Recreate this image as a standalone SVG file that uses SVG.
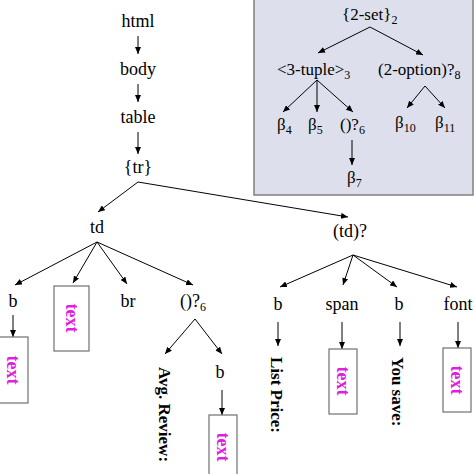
<svg xmlns="http://www.w3.org/2000/svg" width="474" height="474" viewBox="0 0 474 474">
<defs>
<marker id="ah" markerUnits="userSpaceOnUse" markerWidth="8" markerHeight="6" refX="7" refY="3" orient="auto">
<path d="M0,0 L7,3 L0,6 Z" fill="#000"/>
</marker>
<style>
.t{font-family:"Liberation Serif","Times New Roman",serif;font-size:18px;fill:#000}
.p{font-family:"Liberation Serif","Times New Roman",serif;font-size:17px;fill:#000}
.s{font-size:12px}
.m{font-family:"Liberation Serif","Times New Roman",serif;font-size:18px;font-weight:bold;fill:#e01ee0}
.v{font-family:"Liberation Serif","Times New Roman",serif;font-size:17px;font-weight:bold;fill:#000}
.bx{fill:#fff;stroke:#707070;stroke-width:1.2}
.c line{stroke:#000;stroke-width:1;marker-end:url(#ah)}
</style>
</defs>
<rect width="474" height="474" fill="#fff"/>
<g id="panel">
<rect x="254" y="-2" width="219" height="197" fill="#dde0ec" stroke="#808080" stroke-width="1.5"/>
</g>
<g class="c" id="connectors">
<line x1="138" y1="36" x2="138" y2="54"/>
<line x1="138" y1="84" x2="138" y2="102"/>
<line x1="138" y1="132" x2="138" y2="154"/>
<line x1="138" y1="182" x2="98" y2="212"/>
<line x1="138" y1="182" x2="348" y2="217"/>
<line x1="97" y1="242" x2="15" y2="285"/>
<line x1="97" y1="242" x2="73" y2="283"/>
<line x1="97" y1="242" x2="127" y2="284"/>
<line x1="97" y1="242" x2="193" y2="285"/>
<line x1="13" y1="315" x2="13" y2="337"/>
<line x1="195" y1="319" x2="165" y2="354"/>
<line x1="195" y1="319" x2="222" y2="354"/>
<line x1="222" y1="390" x2="222" y2="415"/>
<line x1="353" y1="255" x2="280" y2="287"/>
<line x1="353" y1="255" x2="343" y2="285"/>
<line x1="353" y1="255" x2="397" y2="287"/>
<line x1="353" y1="255" x2="457" y2="287"/>
<line x1="278" y1="322" x2="278" y2="346"/>
<line x1="342" y1="322" x2="342" y2="349"/>
<line x1="400" y1="322" x2="400" y2="346"/>
<line x1="458" y1="322" x2="458" y2="348"/>
<line x1="370" y1="27" x2="318" y2="53"/>
<line x1="370" y1="27" x2="423" y2="55"/>
<line x1="317" y1="80" x2="283" y2="112"/>
<line x1="317" y1="80" x2="317" y2="112"/>
<line x1="317" y1="80" x2="353" y2="112"/>
<line x1="352" y1="140" x2="352" y2="165"/>
<line x1="425" y1="86" x2="407" y2="108"/>
<line x1="425" y1="86" x2="445" y2="108"/>
</g>
<g id="n-set"><text class="p" x="342" y="20">{2-set}<tspan class="s" dy="4">2</tspan></text></g>
<g id="n-tuple"><text class="p" x="277" y="75">&lt;3-tuple&gt;<tspan class="s" dy="4">3</tspan></text></g>
<g id="n-option"><text class="p" x="378" y="75">(2-option)?<tspan class="s" dy="4">8</tspan></text></g>
<g id="n-b4"><text class="p" x="277" y="130">β<tspan class="s" dy="4">4</tspan></text></g>
<g id="n-b5"><text class="p" x="308" y="130">β<tspan class="s" dy="4">5</tspan></text></g>
<g id="n-opt6p"><text class="p" x="340" y="130">()?<tspan class="s" dy="4">6</tspan></text></g>
<g id="n-b7"><text class="p" x="347" y="183">β<tspan class="s" dy="4">7</tspan></text></g>
<g id="n-b10"><text class="p" x="395" y="128">β<tspan class="s" dy="4">10</tspan></text></g>
<g id="n-b11"><text class="p" x="435" y="128">β<tspan class="s" dy="4">11</tspan></text></g>
<g id="n-html"><text class="t" x="138" y="27" text-anchor="middle">html</text></g>
<g id="n-body"><text class="t" x="138" y="75" text-anchor="middle">body</text></g>
<g id="n-table"><text class="t" x="138" y="123" text-anchor="middle">table</text></g>
<g id="n-tr"><text class="t" x="138" y="173" text-anchor="middle">{tr}</text></g>
<g id="n-td"><text class="t" x="97" y="233" text-anchor="middle">td</text></g>
<g id="n-tdopt"><text class="t" x="350" y="237" text-anchor="middle">(td)?</text></g>
<g id="n-b1"><text class="t" x="13" y="307" text-anchor="middle">b</text></g>
<g id="n-text1"><rect class="bx" x="54" y="286" width="35" height="65"/><text class="m" text-anchor="middle" dy="0.33em" transform="translate(72,318) rotate(90)">text</text></g>
<g id="n-br"><text class="t" x="128" y="307" text-anchor="middle">br</text></g>
<g id="n-opt6"><text class="t" x="180" y="307">()?<tspan class="s" dy="4">6</tspan></text></g>
<g id="n-text2"><rect class="bx" x="-3" y="337" width="31" height="66"/><text class="m" text-anchor="middle" dy="0.33em" transform="translate(13,370) rotate(90)">text</text></g>
<g id="n-avg"><text class="v" dy="0.33em" transform="translate(165,367) rotate(90)">Avg. Review:</text></g>
<g id="n-b2"><text class="t" x="220" y="378" text-anchor="middle">b</text></g>
<g id="n-text3"><rect class="bx" x="209" y="415" width="28" height="70"/><text class="m" text-anchor="middle" dy="0.33em" transform="translate(223,447) rotate(90)">text</text></g>
<g id="n-b3"><text class="t" x="278" y="310" text-anchor="middle">b</text></g>
<g id="n-span"><text class="t" x="342" y="310" text-anchor="middle">span</text></g>
<g id="n-b4r"><text class="t" x="399" y="310" text-anchor="middle">b</text></g>
<g id="n-font"><text class="t" x="458" y="310" text-anchor="middle">font</text></g>
<g id="n-list"><text class="v" dy="0.33em" transform="translate(277,357) rotate(90)">List Price:</text></g>
<g id="n-text4"><rect class="bx" x="329" y="349" width="28" height="65"/><text class="m" text-anchor="middle" dy="0.33em" transform="translate(343,381) rotate(90)">text</text></g>
<g id="n-save"><text class="v" dy="0.33em" transform="translate(398,357) rotate(90)">You save:</text></g>
<g id="n-text5"><rect class="bx" x="443" y="348" width="28" height="64"/><text class="m" text-anchor="middle" dy="0.33em" transform="translate(457,380) rotate(90)">text</text></g>
</svg>
